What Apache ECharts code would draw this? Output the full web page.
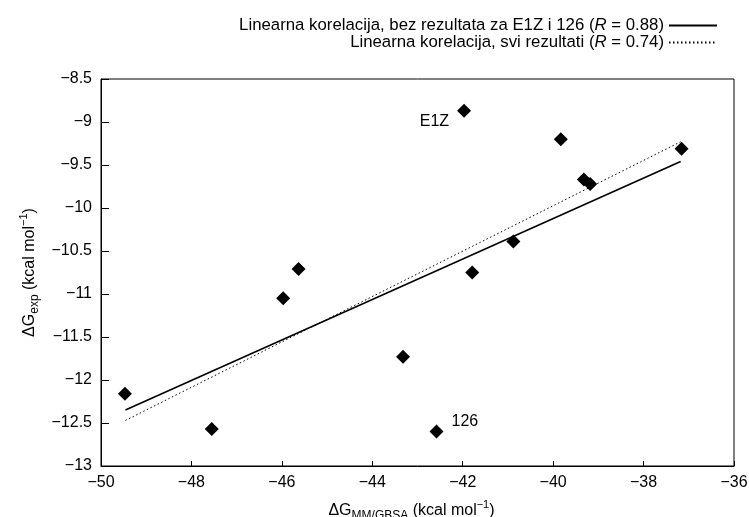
<!DOCTYPE html>
<html>
<head>
<meta charset="utf-8">
<script src="https://cdn.jsdelivr.net/npm/echarts@6/dist/echarts.min.js"></script>
<style>
html,body{margin:0;padding:0;background:#fff;}
#chart{width:749px;height:517px;}
</style>
</head>
<body>
<div id="chart"></div>
<script>
// Data
var xValues = [-49.47, -47.55, -45.97, -45.63, -43.32, -42.58, -41.97, -41.79, -40.88, -39.83, -39.32, -39.18, -37.16];
var yValues = [-12.16, -12.57, -11.05, -10.71, -11.73, -12.60, -8.87, -10.75, -10.39, -9.20, -9.67, -9.72, -9.31];
var pointLabels = ['', '', '', '', '', '126', 'E1Z', '', '', '', '', '', ''];
// Fit lines (endpoints)
var fitExclX = [-49.46, -37.18];
var fitExclY = [-12.35, -9.46];
var fitAllX = [-49.46, -37.18];
var fitAllY = [-12.47, -9.23];
var seriesNames = ['Linearna korelacija, bez rezultata za E1Z i 126 (R = 0.88)', 'Linearna korelacija, svi rezultati (R = 0.74)'];
var legendRich = [
  '{a|Linearna korelacija, bez rezultata za E1Z i 126 (}{i|R}{a| = 0.88)}',
  '{a|Linearna korelacija, svi rezultati (}{i|R}{a| = 0.74)}'
];

var FONT = '"Liberation Sans", Arial, Helvetica, sans-serif';
var minus = function (v) { return String(v).replace('-', '\u2212'); };

var scatterData = xValues.map(function (x, i) {
  var item = { value: [x, yValues[i]] };
  if (pointLabels[i] === 'E1Z') {
    item.label = { show: true, formatter: pointLabels[i], position: 'left', distance: 8, offset: [0, 11] };
  } else if (pointLabels[i] === '126') {
    item.label = { show: true, formatter: pointLabels[i], position: 'right', distance: 8, offset: [0, -10] };
  }
  return item;
});
var lineExcl = fitExclX.map(function (x, i) { return [x, fitExclY[i]]; });
var lineAll = fitAllX.map(function (x, i) { return [x, fitAllY[i]]; });

var richText = {
  a: { fontSize: 16.8, fontFamily: FONT, color: '#000' },
  i: { fontSize: 16.8, fontFamily: FONT, color: '#000', fontStyle: 'italic' }
};
var nameRich = {
  n: { fontSize: 16, fontFamily: FONT, color: '#000' },
  sub: { fontSize: 12, fontFamily: FONT, color: '#000', padding: [10, 0, 0, 0] },
  sup: { fontSize: 11, fontFamily: FONT, color: '#000', padding: [0, 0, 12, 0] }
};

var legendCommon = {
  right: 26, align: 'right', itemWidth: 48, itemHeight: 14,
  itemStyle: { opacity: 0, borderWidth: 0 },
  textStyle: { rich: richText }
};

var chart = echarts.init(document.getElementById('chart'), null, { renderer: 'canvas' });
chart.setOption({
  animation: false,
  backgroundColor: '#fff',
  textStyle: { fontFamily: FONT },
  grid: {
    left: 101, right: 15, top: 79, bottom: 51, containLabel: false, outerBoundsMode: 'none',
    show: true, borderColor: '#000', borderWidth: 1
  },
  legend: [
    Object.assign({}, legendCommon, {
      data: [seriesNames[0]], top: 12,
      formatter: function () { return legendRich[0]; }
    }),
    Object.assign({}, legendCommon, {
      data: [seriesNames[1]], top: 29,
      formatter: function () { return legendRich[1]; }
    })
  ],
  xAxis: {
    type: 'value', min: -50, max: -36, interval: 2,
    name: '{n|\u0394G}{sub|MM/GBSA}{n| (kcal mol}{sup|\u22121}{n|)}',
    nameLocation: 'middle', nameGap: 33,
    nameTextStyle: { rich: nameRich, padding: [0, 12, 0, 0] },
    axisLine: { show: true, lineStyle: { color: '#000', width: 1 } },
    axisTick: { show: true, inside: true, length: 5, lineStyle: { color: '#000' } },
    axisLabel: { color: '#000', fontSize: 16, fontFamily: FONT, margin: 9, formatter: minus },
    splitLine: { show: false }
  },
  yAxis: {
    type: 'value', min: -13, max: -8.5, interval: 0.5,
    name: '{n|\u0394G}{sub|exp}{n| (kcal mol}{sup|\u22121}{n|)}',
    nameLocation: 'middle', nameGap: 43, nameRotate: 90,
    nameTextStyle: { rich: nameRich },
    axisLine: { show: true, lineStyle: { color: '#000', width: 1 } },
    axisTick: { show: true, inside: true, length: 8, lineStyle: { color: '#000' } },
    axisLabel: { color: '#000', fontSize: 16, fontFamily: FONT, margin: 9, formatter: minus },
    splitLine: { show: false }
  },
  series: [
    {
      name: seriesNames[0], type: 'line', data: lineExcl, showSymbol: false, symbol: 'none',
      lineStyle: { color: '#000', width: 1.6, type: 'solid' }, itemStyle: { color: '#000' }, z: 2
    },
    {
      name: seriesNames[1], type: 'line', data: lineAll, showSymbol: false, symbol: 'none',
      lineStyle: { color: '#000', width: 1, type: [1.5, 2.5] }, itemStyle: { color: '#000' }, z: 2
    },
    {
      name: 'points', type: 'scatter', data: scatterData, symbol: 'diamond', symbolSize: 14,
      itemStyle: { color: '#000', opacity: 1 },
      label: { color: '#000', fontSize: 16, fontFamily: FONT },
      z: 3
    }
  ]
});
</script>
</body>
</html>
